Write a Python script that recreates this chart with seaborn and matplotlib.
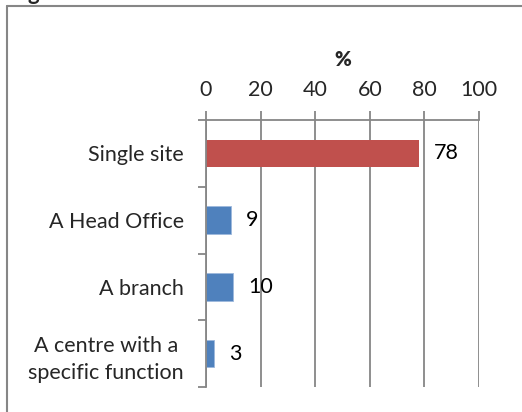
import matplotlib
matplotlib.use("Agg")
import matplotlib.pyplot as plt
import seaborn as sns
import pandas as pd
from matplotlib.lines import Line2D

# data
categories = ["Single site", "A Head Office", "A branch", "A centre with a\nspecific function"]
values = [78, 9, 10, 3]
bar_colors = ["#C0504D", "#4F81BD", "#4F81BD", "#4F81BD"]
x_ticks = [0, 20, 40, 60, 80, 100]

df = pd.DataFrame({"category": categories, "value": values})

sns.set_theme(style="white")
plt.rcParams["font.family"] = ["Lato", "DejaVu Sans"]

W, H = 522, 412
fs = 15.5
fig = plt.figure(figsize=(W / 100, H / 100), dpi=100)
ax = fig.add_axes([206 / W, 1 - 387 / H, (479 - 206) / W, (387 - 120) / H])

sns.barplot(data=df, x="value", y="category", hue="category", palette=bar_colors,
            orient="h", width=0.41, saturation=1, legend=False, ax=ax, linewidth=0)
# thin light edge on the blue bars, like the original
for patch, col in zip(ax.patches, bar_colors):
    if col == "#4F81BD":
        patch.set_edgecolor("#9db8dc")
        patch.set_linewidth(0.6)

grid_col = "#868686"
ax.set_xlim(0, 100)
ax.set_ylim(3.5, -0.5)
ax.set_xticks(x_ticks)
ax.xaxis.tick_top()
ax.xaxis.set_label_position("top")
ax.set_xlabel("%", fontsize=fs - 1, fontweight="heavy", labelpad=10)
ax.set_ylabel("")
ax.grid(axis="x", color=grid_col, linewidth=1.3)
ax.set_axisbelow(True)

for side in ["bottom", "right"]:
    ax.spines[side].set_visible(False)
for side in ["top", "left"]:
    ax.spines[side].set_color(grid_col)
    ax.spines[side].set_linewidth(1.3)

ax.tick_params(axis="x", which="major", length=6.5, width=1.3, color=grid_col,
               labelsize=fs, pad=8, top=True, bottom=False)
ax.tick_params(axis="y", which="major", length=0, labelsize=fs, pad=16)
ax.set_yticks([-0.5, 0.5, 1.5, 2.5, 3.5], minor=True)
ax.tick_params(axis="y", which="minor", length=6, width=1.3, color=grid_col, left=True)
for lbl in ax.get_yticklabels():
    lbl.set_horizontalalignment("right")
    lbl.set_multialignment("center")
    lbl.set_linespacing(1.45)

for i, v in enumerate(values):
    ax.annotate(str(v), (v, i), xytext=(11, 0), textcoords="offset points",
                va="center", ha="left", fontsize=fs, color="black")

# outer chart frame (only top and left edges fall inside the picture)
fig.add_artist(Line2D([7 / W, 7 / W], [0, 1 - 6 / H], color=grid_col, linewidth=1.5))
fig.add_artist(Line2D([7 / W, 1], [1 - 6 / H, 1 - 6 / H], color=grid_col, linewidth=1.5))
# clipped title fragment at top
fig.text(28 / W, 1 - 4 / H, "g", fontsize=16, fontweight="bold", va="bottom", ha="left")

fig.savefig("out.png", dpi=100)
